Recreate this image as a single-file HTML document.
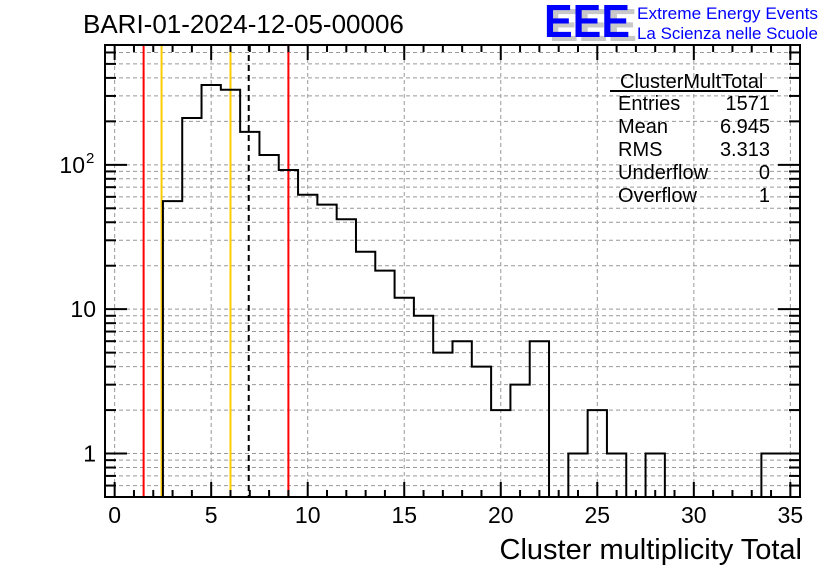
<!DOCTYPE html>
<html><head><meta charset="utf-8"><style>
body{margin:0;background:#fff;}
svg text{font-family:"Liberation Sans",sans-serif;}
</style></head><body>
<svg id="c" width="836" height="572" xmlns="http://www.w3.org/2000/svg">
<rect width="836" height="572" fill="#fff"/>
<text x="83" y="33" font-size="26">BARI-01-2024-12-05-00006</text>
<g>
<text x="549" y="41" font-size="46" font-weight="bold" fill="#c8c8c8" textLength="88" lengthAdjust="spacingAndGlyphs">EEE</text>
<text x="544" y="37" font-size="46" font-weight="bold" fill="#0000ff" textLength="86" lengthAdjust="spacingAndGlyphs">EEE</text>
<text x="637" y="19" font-size="17" fill="#0000ff" textLength="181" lengthAdjust="spacingAndGlyphs">Extreme Energy Events</text>
<text x="637" y="39" font-size="17" fill="#0000ff" textLength="181" lengthAdjust="spacingAndGlyphs">La Scienza nelle Scuole</text>
</g>
<g id="grid"></g>
<g id="marks"></g>
<g id="axes"></g>
<g font-size="20">
<text x="620" y="88">ClusterMultTotal</text>
<line x1="610" y1="91" x2="778" y2="91" stroke="#000" stroke-width="2"/>
<text x="618" y="110">Entries</text><text x="770" y="110" text-anchor="end">1571</text>
<text x="618" y="133">Mean</text><text x="770" y="133" text-anchor="end">6.945</text>
<text x="618" y="156">RMS</text><text x="770" y="156" text-anchor="end">3.313</text>
<text x="618" y="179">Underflow</text><text x="770" y="179" text-anchor="end">0</text>
<text x="618" y="202">Overflow</text><text x="770" y="202" text-anchor="end">1</text>
</g>
<text x="802" y="559" font-size="29" text-anchor="end">Cluster multiplicity Total</text>
</svg>
<script>
const binCenters=[3,4,5,6,7,8,9,10,11,12,13,14,15,16,17,18,19,20,21,22,23,24,25,26,27,28,29,30,31,32,33,34,35];
const counts=[56,211,357,331,169,117,92,62,53,42,25,18.5,12,9,5,6,4,2,3,6,0,1,2,1,0,1,0,0,0,0,0,1,1];
const xTicks=[0,5,10,15,20,25,30,35];
const yTicks=[1,10,100];
const yTickLabels=["1","10","10"];
const yTickExp=["","","2"];
const vLines=[{v:1.5,c:"#ff0000",d:""},{v:2.43,c:"#ffcc00",d:""},{v:6.0,c:"#ffcc00",d:""},{v:6.945,c:"#000",d:"6,4"},{v:9.0,c:"#ff0000",d:""}];
const L=105,R=800,T=45,B=497,XMIN=-0.5,XMAX=35.5,YMIN=0.5,YMAX=676;
const X=v=>L+(v-XMIN)/(XMAX-XMIN)*(R-L);
const Y=v=>B-(Math.log10(v)-Math.log10(YMIN))/(Math.log10(YMAX)-Math.log10(YMIN))*(B-T);
const NS="http://www.w3.org/2000/svg";
function mk(tag,attrs,parent){const e=document.createElementNS(NS,tag);for(const k in attrs)e.setAttribute(k,attrs[k]);parent.appendChild(e);return e;}
const grid=document.getElementById('grid'),marks=document.getElementById('marks'),axes=document.getElementById('axes');
for(const t of xTicks){const g=mk('line',{x1:X(t),x2:X(t),y1:T,y2:B,stroke:"#999","stroke-dasharray":"4,3"},grid);

}
for(let p=-1;p<=2;p++)for(let m=1;m<=9;m++){const v=m*Math.pow(10,p);if(v<YMIN||v>YMAX)continue;
const g=mk('line',{x1:L,x2:R,y1:Y(v),y2:Y(v),stroke:"#999","stroke-dasharray":"4,3"},grid);

}
for(const l of vLines){const e=mk('line',{x1:X(l.v),x2:X(l.v),y1:T,y2:B,stroke:l.c,"stroke-width":2,"stroke-dasharray":l.d},marks);

}
let d="";
for(let i=0;i<binCenters.length;i++){const x0=X(binCenters[i]-0.5),x1=X(binCenters[i]+0.5);
const y=counts[i]>0?Math.max(T,Math.min(B,Y(counts[i]))):B;
d+=(i===0?`M${x0},${B}`:"")+`L${x0},${y}L${x1},${y}`;}
d+=`L${X(35.5)},${B}`;
const h=mk('path',{d:d,fill:"none",stroke:"#000","stroke-width":2},marks);


const fr=mk('rect',{x:L,y:T,width:R-L,height:B-T,fill:"none",stroke:"#000","stroke-width":2},axes);


for(let v=0;v<=35;v++){const maj=v%5===0,len=maj?15:7;
mk('line',{x1:X(v),x2:X(v),y1:B,y2:B-len,stroke:"#000","stroke-width":2},axes);
mk('line',{x1:X(v),x2:X(v),y1:T,y2:T+len,stroke:"#000","stroke-width":2},axes);}
for(const t of xTicks){const e=mk('text',{x:X(t),y:523,"font-size":23,"text-anchor":"middle"},axes);e.textContent=t;

}
for(let p=-1;p<=2;p++)for(let m=1;m<=9;m++){const v=m*Math.pow(10,p);if(v<YMIN||v>YMAX)continue;const len=m===1?22:11;
mk('line',{x1:L,x2:L+len,y1:Y(v),y2:Y(v),stroke:"#000","stroke-width":2},axes);
mk('line',{x1:R,x2:R-len,y1:Y(v),y2:Y(v),stroke:"#000","stroke-width":2},axes);}
yTicks.forEach((t,i)=>{
const ex=yTickExp[i];
const e=mk('text',{x:ex?85:96,y:Y(t)+8,"font-size":23,"text-anchor":"end"},axes);e.textContent=yTickLabels[i];


if(ex){const s=mk('text',{x:86,y:Y(t)-2,"font-size":15},axes);s.textContent=ex;

}
});
</script>
</body></html>
